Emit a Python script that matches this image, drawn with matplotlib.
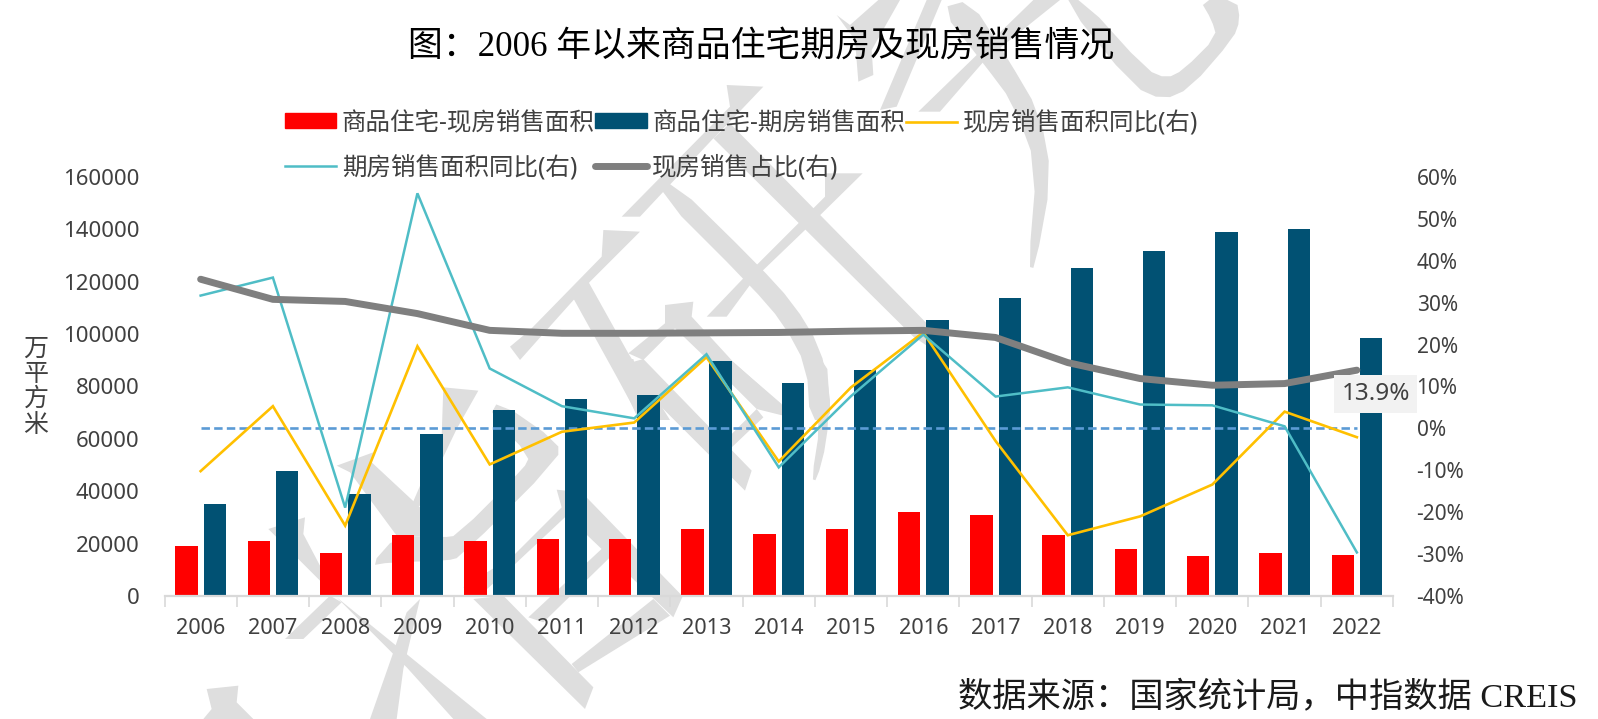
import numpy as np
import matplotlib
matplotlib.use('Agg')
import matplotlib.pyplot as plt
from matplotlib.lines import Line2D
from matplotlib.patches import Patch, Polygon

plt.rcParams['font.family'] = ['Noto Sans', 'Noto Sans CJK SC']

W, H = 1598, 719

# данные
years = ['2006', '2007', '2008', '2009', '2010', '2011', '2012', '2013', '2014',
         '2015', '2016', '2017', '2018', '2019', '2020', '2021', '2022']
xianfang_area = [19200, 21100, 16300, 23200, 21100, 21650, 21650, 25500, 23700,
                 25500, 32000, 31000, 23200, 17800, 15300, 16300, 15800]
qifang_area = [35000, 47600, 38900, 61900, 71200, 75200, 76600, 89800, 81400,
               86400, 105300, 113700, 125100, 131800, 139000, 140000, 98400]
xianfang_yoy = [-10.2, 5.3, -23.2, 19.6, -8.6, -0.8, 1.4, 17.0, -7.9,
                9.8, 22.9, -3.0, -25.5, -21.0, -13.4, 4.0, -2.1]
qifang_yoy = [31.7, 36.0, -18.9, 56.1, 14.3, 5.3, 2.4, 17.7, -9.3,
              7.7, 22.4, 7.6, 9.8, 5.7, 5.5, 0.5, -29.6]
xianfang_share = [35.6, 30.8, 30.3, 27.4, 23.4, 22.7, 22.7, 22.8, 22.9,
                  23.2, 23.4, 21.7, 15.7, 11.9, 10.3, 10.7, 13.9]
left_ticks = [0, 20000, 40000, 60000, 80000, 100000, 120000, 140000, 160000]
right_ticks = [-40, -30, -20, -10, 0, 10, 20, 30, 40, 50, 60]

GRAY_TEXT = '#404040'


# перевод из кропа (x0, y0, масштаб 3) в пиксели картинки
def crop(x0, y0, pts):
    return [(x0 + px / 3, y0 + py / 3) for px, py in pts]


# сглаживание дуг
def smooth(pts, n=2):
    pts = np.array(pts, dtype=float)
    for _ in range(n):
        a = pts
        b = np.roll(pts, -1, axis=0)
        pts = np.column_stack([0.75 * a + 0.25 * b, 0.25 * a + 0.75 * b]).reshape(-1, 2)
    return [tuple(p) for p in pts]


# водяной знак: серые полигоны на фоне
def watermark(fig):
    z8 = (500, 60)
    z9 = (190, 359)
    z10 = (600, 359)
    z11 = (800, 0)
    shapes = [
        crop(*z8, [(680, 75), (790, 80), (690, 185), (640, 235), (420, 470), (365, 470), (690, 140)]),
        crop(*z8, [(690, 190), (1280, 790), (1285, 860), (1240, 830), (640, 235)]),
        smooth(crop(*z8, [(510, 355), (770, 610), (880, 730), (960, 860), (990, 1000), (990, 1080),
                          (930, 1080), (920, 920), (850, 790), (750, 675), (475, 400)]), 1),
        smooth(crop(*z10, [(610, 0), (680, 0), (688, 120), (680, 250), (650, 365), (635, 360),
                           (660, 200), (640, 100)]), 1),
        crop(*z8, [(975, 340), (1088, 340), (915, 510), (790, 630), (750, 675), (680, 770),
                   (620, 770), (730, 655), (895, 490), (975, 410)]),
        crop(*z8, [(310, 510), (420, 515), (270, 665), (140, 810), (60, 900), (30, 860), (90, 810), (305, 590)]),
        crop(*z8, [(265, 665), (385, 880), (510, 1080), (420, 1080), (350, 950), (220, 715)]),
        crop(*z9, [(1260, 0), (1330, 0), (1355, 85), (1340, 170), (1300, 80)]),
        crop(*z8, [(495, 735), (580, 725), (575, 770), (700, 906), (850, 1040), (770, 1040), (525, 805),
                   (430, 900), (385, 880), (495, 790)]),
        crop(*z10, [(130, 0), (455, 335), (435, 395), (120, 80), (60, 20)]),
        crop(*z10, [(400, 10), (545, 135), (550, 170), (470, 150), (370, 50)]),
        crop(*z10, [(470, 150), (490, 175), (390, 270), (370, 250)]),
        crop(*z9, [(1100, 392), (1175, 400), (1478, 712), (1450, 775), (1130, 470), (970, 620), (880, 700),
                   (820, 685), (970, 590), (1115, 445)]),
        crop(*z9, [(1240, 565), (1265, 590), (1060, 790), (1015, 775)]),
        crop(*z9, [(940, 710), (1210, 985), (1185, 1050), (850, 720)]),
        crop(*z9, [(1390, 720), (1440, 770), (1165, 940), (1145, 915)]),
        smooth(crop(*z9, [(925, 125), (1105, 250), (1105, 300), (810, 595), (770, 605), (600, 610), (540, 620),
                          (620, 530), (760, 535), (800, 530), (1000, 330), (1020, 290), (900, 170)]), 1),
        crop(*z9, [(760, 85), (865, 95), (800, 210), (690, 440), (660, 450), (755, 230)]),
        crop(*z9, [(440, 320), (550, 280), (545, 310), (690, 445), (760, 535), (620, 530), (480, 340)]),
        crop(*z9, [(235, 510), (345, 475), (340, 525), (440, 715), (890, 1080), (790, 1080), (650, 925),
                   (610, 885)]),
        crop(*z9, [(690, 720), (640, 930), (620, 1080), (540, 1080), (610, 880), (650, 760)]),
        crop(*z9, [(420, 710), (455, 730), (340, 840), (285, 840)]),
        crop(*z9, [(50, 990), (145, 980), (140, 1030), (190, 1080), (40, 1080), (65, 1050)]),
        crop(*z11, [(110, 45), (150, 75), (235, 0), (300, 0), (215, 150), (220, 225), (175, 245), (165, 120)]),
        crop(*z11, [(240, 330), (380, 0), (425, 0), (290, 320)]),
        crop(*z11, [(355, 335), (700, 0), (780, 0), (555, 180), (420, 335)]),
        smooth(crop(*z11, [(420, 25), (510, 0), (620, 170), (720, 340), (755, 530), (705, 805), (685, 800),
                           (710, 500), (640, 310), (550, 190)]), 1),
        smooth(crop(*z11, [(790, 0), (850, 0), (1040, 210), (1100, 235), (1150, 210), (1250, 110), (1235, 60),
                           (1200, 0), (1310, 0), (1320, 60), (1300, 115), (1170, 265), (1090, 300),
                           (1000, 260)]), 1),
    ]
    for pts in shapes:
        norm = [(x / W, 1 - y / H) for x, y in pts]
        fig.add_artist(Polygon(norm, closed=True, fc='#DEDEDE', ec='none',
                               transform=fig.transFigure, zorder=-1))


fig = plt.figure(figsize=(W / 100, H / 100), dpi=100, facecolor='white')
watermark(fig)

ax_left, ax_right, ax_top, ax_bottom = 164.5, 1393, 177, 596
ax = fig.add_axes([ax_left / W, 1 - ax_bottom / H, (ax_right - ax_left) / W, (ax_bottom - ax_top) / H])
ax.patch.set_visible(False)

x = np.arange(len(years))
ax.bar(x - 0.196, xianfang_area, width=0.31, color='#FF0000')
ax.bar(x + 0.196, qifang_area, width=0.31, color='#015173')
ax.set_xlim(-0.5, len(years) - 0.5)
ax.set_ylim(0, 160000)
ax.set_yticks(left_ticks)
ax.tick_params(axis='y', length=0, pad=18, labelsize=16, labelcolor=GRAY_TEXT)
ax.set_xticks(x)
ax.set_xticklabels(years)
ax.set_xticks(np.arange(len(years) + 1) - 0.5, minor=True)
ax.tick_params(axis='x', which='major', length=0, pad=16, labelsize=15.6, labelcolor=GRAY_TEXT)
ax.tick_params(axis='x', which='minor', length=8, width=1.2, color='#D9D9D9')
for s in ['top', 'left', 'right']:
    ax.spines[s].set_visible(False)
ax.spines['bottom'].set_color('#D9D9D9')
ax.spines['bottom'].set_linewidth(1.6)
ax.set_ylabel('万\n平\n方\n米', rotation=0, fontsize=18, color=GRAY_TEXT, linespacing=1.02, va='center', ha='center')
ax.yaxis.set_label_coords((36 - ax_left) / (ax_right - ax_left), (ax_bottom - 387) / (ax_bottom - ax_top))

ax2 = ax.twinx()
ax2.patch.set_visible(False)
ax2.set_ylim(-40, 60)
ax2.set_yticks(right_ticks)
ax2.set_yticklabels([f'{t}%' for t in right_ticks])
ax2.tick_params(axis='y', length=0, pad=17, labelsize=15, labelcolor=GRAY_TEXT)
for s in ax2.spines.values():
    s.set_visible(False)

ax2.plot(x, [0] * len(years), color='#5B9BD5', lw=1.9, dashes=(3.2, 1.6))
ax2.plot(x, xianfang_yoy, color='#FFC000', lw=1.9, solid_joinstyle='miter')
ax2.plot(x, qifang_yoy, color='#4FBDC6', lw=1.8, solid_joinstyle='miter')
ax2.plot(x, xianfang_share, color='#7F7F7F', lw=5, solid_capstyle='round')

ax2.annotate(f'{xianfang_share[-1]}%', xy=(x[-1], xianfang_share[-1]), xytext=(13.7, -17.3),
             textcoords='offset points', ha='center', va='center', fontsize=17.5, color=GRAY_TEXT,
             bbox=dict(boxstyle='square,pad=0.3', fc='#F2F2F2', ec='none'))

# легенда: порядок колонок, ncol заполняет по столбцам
handles = [Patch(color='#FF0000'),
           Line2D([], [], color='#4FBDC6', lw=1.8),
           Patch(color='#015173'),
           Line2D([], [], color='#7F7F7F', lw=5, solid_capstyle='round'),
           Line2D([], [], color='#FFC000', lw=1.9)]
labels = ['商品住宅-现房销售面积', '期房销售面积同比(右)', '商品住宅-期房销售面积', '现房销售占比(右)', '现房销售面积同比(右)']
fig.legend(handles, labels, ncol=3, loc='upper left', bbox_to_anchor=(285 / W, 1 - 110 / H),
           frameon=False, fontsize=17.65, labelcolor=GRAY_TEXT, handlelength=2.1, handleheight=0.55,
           handletextpad=0.22, columnspacing=0.03, labelspacing=0.78, borderpad=0, borderaxespad=0)

serif = ['Liberation Serif', 'Noto Sans CJK SC']
fig.text(761 / W, 1 - 48 / H, '图：2006 年以来商品住宅期房及现房销售情况', family=serif, fontsize=25.1,
         color='black', ha='center', va='center')
fig.text(1578 / W, 1 - 698 / H, '数据来源：国家统计局，中指数据 CREIS', family=serif, fontsize=24.7,
         color='#1A1A1A', ha='right', va='center')

fig.savefig('out.png', dpi=100)
